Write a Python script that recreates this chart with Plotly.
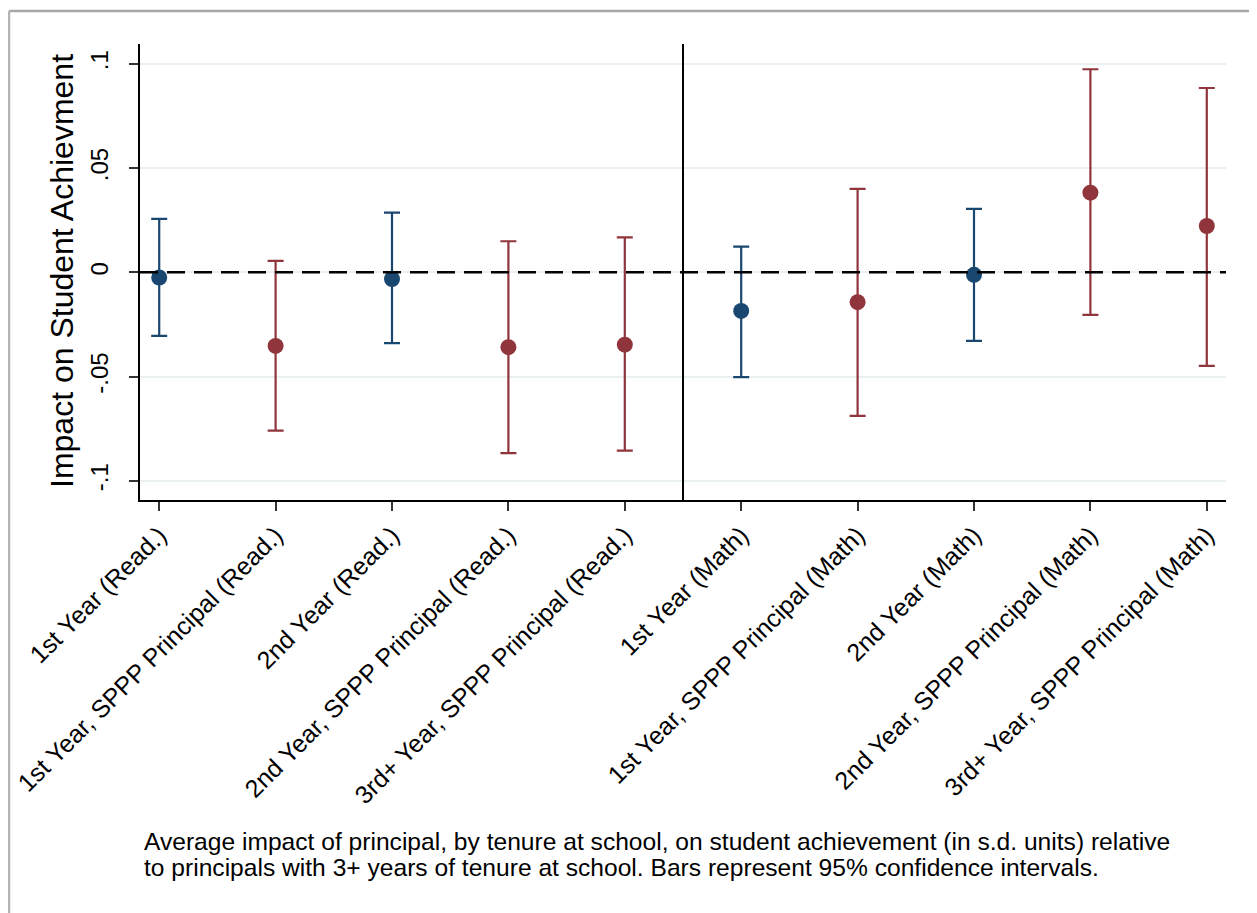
import plotly.graph_objects as go

categories = [
    "1st Year (Read.)",
    "1st Year, SPPP Principal (Read.)",
    "2nd Year (Read.)",
    "2nd Year, SPPP Principal (Read.)",
    "3rd+ Year, SPPP Principal (Read.)",
    "1st Year (Math)",
    "1st Year, SPPP Principal (Math)",
    "2nd Year (Math)",
    "2nd Year, SPPP Principal (Math)",
    "3rd+ Year, SPPP Principal (Math)",
]
estimate = [-0.0025, -0.0353, -0.0032, -0.0359, -0.0347, -0.0185, -0.0143, -0.0012, 0.0382, 0.0222]
ci_high = [0.0256, 0.0055, 0.0286, 0.0149, 0.0168, 0.0123, 0.0400, 0.0304, 0.0974, 0.0884]
ci_low = [-0.0305, -0.0759, -0.0340, -0.0867, -0.0855, -0.0503, -0.0689, -0.0329, -0.0204, -0.0449]
is_sppp = [False, True, False, True, True, False, True, False, True, True]

ytick_vals = [-0.1, -0.05, 0, 0.05, 0.1]
ytick_text = ["-.1", "-.05", "0", ".05", ".1"]

y_title = "Impact on Student Achievment"
caption_lines = [
    "Average impact of principal, by tenure at school, on student achievement (in s.d. units) relative",
    "to principals with 3+ years of tenure at school. Bars represent 95% confidence intervals.",
]

NAVY = "#1a476f"
MAROON = "#90353b"
FONT = "Liberation Sans, Arial, sans-serif"

# page body has an 8px margin; plot area is 1086 x 456 px starting at (140, 44) on screen
PW, PH = 1086, 456
def px_x(x):
    return (x - 140) / PW
def px_y(y):
    return (500 - y) / PH

positions = list(range(1, len(categories) + 1))

fig = go.Figure()
for flag, color in [(False, NAVY), (True, MAROON)]:
    xs, ys, up, dn = [], [], [], []
    for p, e, lo, hi, s in zip(positions, estimate, ci_low, ci_high, is_sppp):
        if s == flag:
            xs.append(p)
            ys.append(e)
            up.append(hi - e)
            dn.append(e - lo)
    fig.add_trace(go.Scatter(
        x=xs, y=ys, mode="markers",
        marker=dict(color=color, size=16, symbol="circle"),
        error_y=dict(type="data", symmetric=False, array=up, arrayminus=dn,
                     color=color, thickness=2.2, width=8),
        showlegend=False,
    ))

# dashed zero reference line
fig.add_shape(type="line", xref="paper", yref="y", x0=0, x1=1, y0=0, y1=0,
              line=dict(color="black", width=2.6, dash="18px,9px"), layer="above")
# vertical separator between reading and math
fig.add_shape(type="line", xref="x", yref="paper", x0=5.5, x1=5.5, y0=0, y1=1,
              line=dict(color="black", width=2))

# outer frame
fig.add_shape(type="line", xref="paper", yref="paper",
              x0=px_x(9), x1=px_x(1256), y0=px_y(11), y1=px_y(11),
              line=dict(color="#a8a8a8", width=2.5))
fig.add_shape(type="line", xref="paper", yref="paper",
              x0=px_x(9), x1=px_x(9), y0=px_y(11), y1=px_y(930),
              line=dict(color="#b4b4b4", width=2.5))
fig.add_shape(type="line", xref="paper", yref="paper",
              x0=px_x(1256), x1=px_x(1256), y0=px_y(11), y1=px_y(930),
              line=dict(color="#e6e6e6", width=1.5))

fig.add_annotation(text=y_title, xref="paper", yref="paper", x=px_x(62), y=px_y(271),
                   textangle=-90, showarrow=False, xanchor="center", yanchor="middle",
                   font=dict(family=FONT, size=32, color="black"))
for i, line in enumerate(caption_lines):
    fig.add_annotation(text=line, xref="paper", yref="paper", x=px_x(142), y=px_y(841 + 26 * i),
                       showarrow=False, xanchor="left", yanchor="middle", align="left",
                       font=dict(family=FONT, size=24.6, color="black"))

fig.update_layout(
    width=1249, height=905,
    margin=dict(l=132, r=31, t=36, b=413, autoexpand=False),
    paper_bgcolor="white", plot_bgcolor="white",
    font=dict(family=FONT, color="black"),
    xaxis=dict(
        range=[0.835, 10.165], tickmode="array", tickvals=positions, ticktext=categories,
        tickangle=-45, ticks="outside", ticklen=9, tickwidth=1.5, tickcolor="#333",
        showline=True, linecolor="black", linewidth=1.5, showgrid=False, zeroline=False,
        automargin=False,
        tickfont=dict(family=FONT, size=25, color="black"),
    ),
    yaxis=dict(
        range=[-0.1092, 0.1095], tickmode="array", tickvals=ytick_vals, ticktext=ytick_text,
        tickangle=-90, ticks="outside", ticklen=9, tickwidth=1.5, tickcolor="#333",
        showline=True, linecolor="black", linewidth=1.5, ticklabelstandoff=12,
        showgrid=True, gridcolor="#e8f0f2", gridwidth=2, zeroline=False,
        automargin=False,
        tickfont=dict(family=FONT, size=24, color="black"),
    ),
)

fig.write_html("out.html")
